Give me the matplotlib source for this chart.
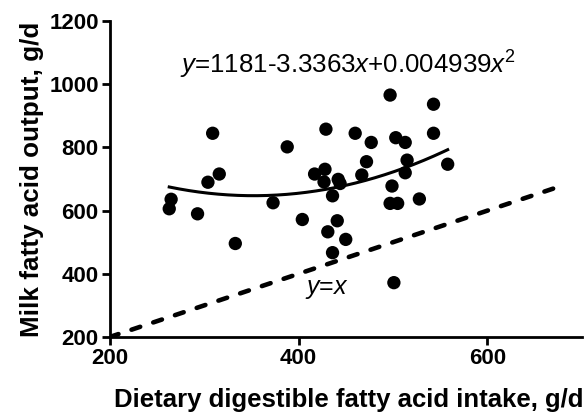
import numpy as np
import matplotlib
matplotlib.use("Agg")
import matplotlib.pyplot as plt

plt.rcParams['font.family'] = ['Liberation Sans', 'DejaVu Sans']
plt.rcParams['mathtext.fontset'] = 'custom'
plt.rcParams['mathtext.rm'] = 'Liberation Sans'
plt.rcParams['mathtext.it'] = 'Liberation Sans:italic'
plt.rcParams['mathtext.bf'] = 'Liberation Sans:bold'

# Scatter data (dietary digestible FA intake, milk FA output), g/d
intake = [309, 388, 429, 316, 304, 265, 263, 293, 333, 373, 404, 417, 428, 427,
          442, 444, 436, 441, 431, 450, 436, 497, 543, 460, 477, 503, 513, 543,
          472, 515, 467, 513, 558, 499, 497, 505, 528, 501]
output = [845, 802, 858, 716, 690, 636, 606, 590, 496, 625, 572, 716, 731, 691,
          699, 686, 647, 568, 533, 509, 467, 966, 937, 845, 816, 831, 816, 845,
          755, 760, 713, 720, 747, 678, 623, 623, 637, 372]

# Points
curve_x = [263, 296, 349, 402, 455, 510, 558]
curve_y = [674, 660, 646, 657, 684, 731, 794]

# Identity line extent
ident_x = [200, 680]

x_ticks = [200, 400, 600]
y_ticks = [200, 400, 600, 800, 1000, 1200]

equation = r"$\mathit{y}$=1181-3.3363$\mathit{x}$+0.004939$\mathit{x}^2$"

fig = plt.figure(figsize=(5.87, 4.15), dpi=100)
ax = fig.add_axes([0.187, 0.188, 0.804, 0.761])

ax.plot(ident_x, ident_x, color='black', lw=3.3, dashes=(2.0, 3.0),
        dash_capstyle='round', zorder=2)

coef = np.polyfit(curve_x, curve_y, 2)
xs = np.linspace(min(curve_x), max(curve_x), 200)
ax.plot(xs, np.polyval(coef, xs), color='black', lw=2.2, zorder=3)

ax.scatter(intake, output, s=92, color='black', edgecolors='none', zorder=4)

ax.set_xlim(200, 700)
ax.set_ylim(200, 1200)
ax.set_xticks(x_ticks)
ax.set_yticks(y_ticks)

for s in ['top', 'right']:
    ax.spines[s].set_visible(False)
for s in ['left', 'bottom']:
    ax.spines[s].set_linewidth(2.0)

ax.tick_params(axis='both', which='major', length=6, width=2.0,
               labelsize=16, direction='out', pad=2)
for lab in ax.get_xticklabels() + ax.get_yticklabels():
    lab.set_fontweight('bold')

ax.set_xlabel("Dietary digestible fatty acid intake, g/d", fontsize=18.5,
              fontweight='bold')
ax.xaxis.set_label_coords(0.5 + 3 / 472, -0.162)
ax.set_ylabel("Milk fatty acid output, g/d", fontsize=18.7,
              fontweight='bold', labelpad=4)

ax.text(452, 1061, equation, fontsize=18.6, ha='center', va='center')
ax.text(430, 351, r"$\mathit{y}$=$\mathit{x}$", fontsize=18, ha='center', va='center')

fig.savefig("out.png", dpi=100)
